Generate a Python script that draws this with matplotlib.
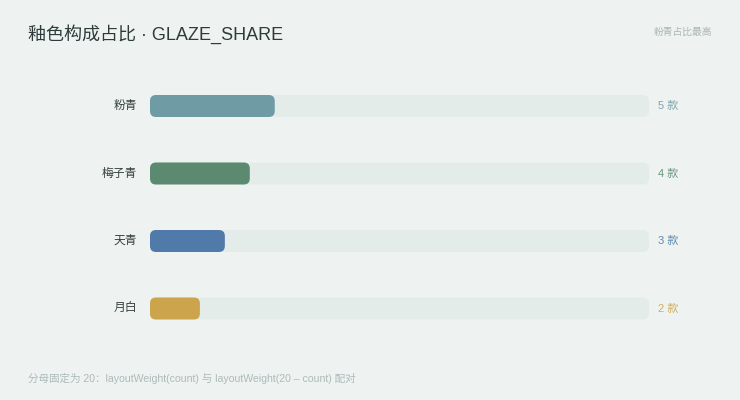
import matplotlib
matplotlib.use('Agg')
from matplotlib import pyplot as plt
from matplotlib.patches import FancyBboxPatch

plt.rcParams['font.family'] = ['Liberation Sans', 'Noto Sans CJK SC', 'DejaVu Sans']

# Data
glazes = ['粉青', '梅子青', '天青', '月白']
counts = [5, 4, 3, 2]
total = 20
bar_colors = ['#6f9ba4', '#5b8a70', '#4f7aa9', '#cca44c']
unit = '款'

title = '釉色构成占比 · GLAZE_SHARE'
note = '粉青占比最高'
footer = '分母固定为 20：layoutWeight(count) 与 layoutWeight(20 – count) 配对'

BG = '#eef3f1'
TRACK = '#e4ece9'

W, H = 740, 400
fig = plt.figure(figsize=(W / 100, H / 100), dpi=100, facecolor=BG)

# track area in pixels: x 150..649, rows centred at 106, 173.5, 241, 308.5
x0, x1 = 150, 649
row_gap = 67.5
y_top = 106 - row_gap / 2
y_bot = 308.5 + row_gap / 2
ax = fig.add_axes([x0 / W, 1 - y_bot / H, (x1 - x0) / W, (y_bot - y_top) / H])
ax.set_xlim(0, total)
ax.set_ylim(len(glazes) - 0.5, -0.5)
ax.axis('off')

px_x = (x1 - x0) / total
px_y = row_gap
bar_h = 22 / px_y
r = 6 / px_x
aspect = px_x / px_y

for i, (name, c, col) in enumerate(zip(glazes, counts, bar_colors)):
    track = FancyBboxPatch((0, i - bar_h / 2), total, bar_h,
                           boxstyle=f'round,pad=0,rounding_size={r}',
                           mutation_aspect=aspect, fc=TRACK, ec='none')
    ax.add_patch(track)
    bar = FancyBboxPatch((0, i - bar_h / 2), c, bar_h,
                         boxstyle=f'round,pad=0,rounding_size={r}',
                         mutation_aspect=aspect, fc=col, ec='none')
    ax.add_patch(bar)
    ax.text(-13 / px_x, i, name, ha='right', va='center', fontsize=8.5, color='#34403f')
    ax.text(total + 9 / px_x, i, f'{c} {unit}', ha='left', va='center',
            fontsize=8, color=col, alpha=0.9)

fig.text(28 / W, 1 - 34 / H, title, ha='left', va='center', fontsize=13, color='#2e3b3b')
fig.text(712 / W, 1 - 32 / H, note, ha='right', va='center', fontsize=7, color='#a9b6b6')
fig.text(28 / W, 1 - 378 / H, footer, ha='left', va='center', fontsize=7.6, color='#adbaba')

fig.savefig('out.png', dpi=100, facecolor=BG)
